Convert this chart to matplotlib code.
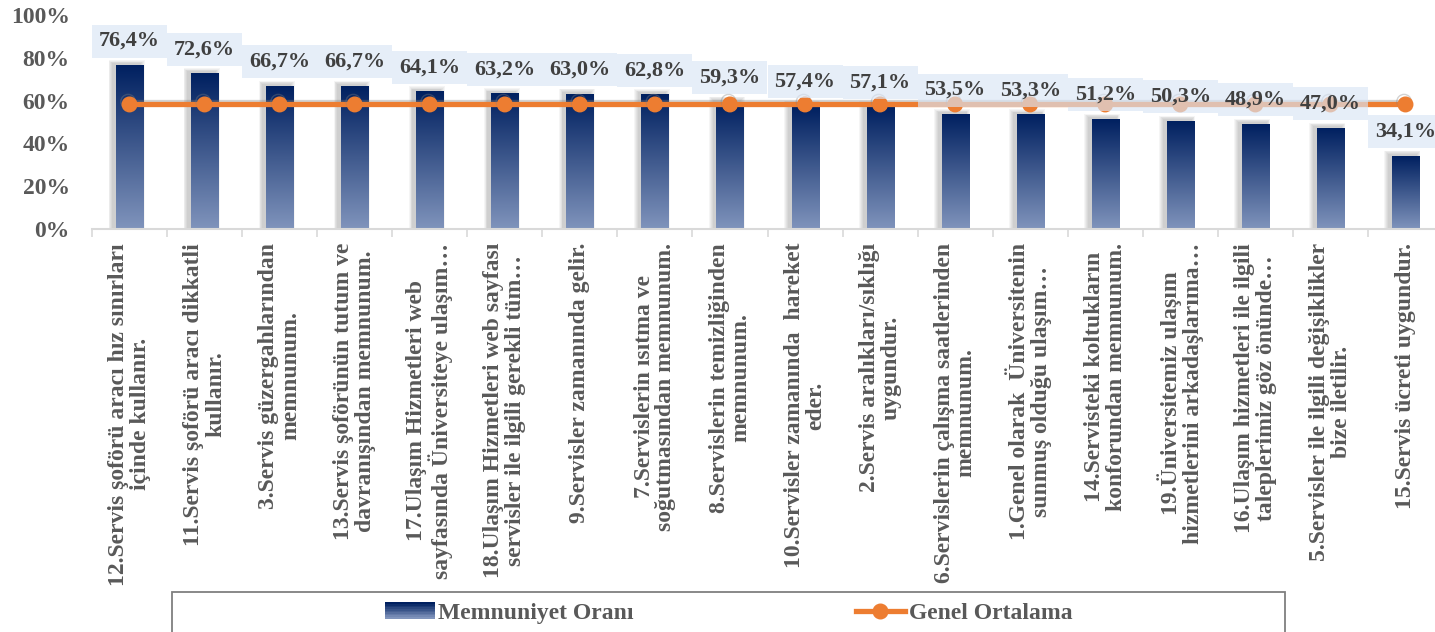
import numpy as np
import matplotlib
matplotlib.use("Agg")
import matplotlib.pyplot as plt
import matplotlib.patheffects as pe
from matplotlib.patches import Rectangle
from matplotlib.lines import Line2D
from matplotlib.legend_handler import HandlerBase
from matplotlib.colors import to_rgb
from matplotlib.font_manager import FontProperties

categories = [
    "12.Servis şoförü aracı hız sınırları\niçinde kullanır.",
    "11.Servis şoförü aracı dikkatli\nkullanır.",
    "3.Servis güzergahlarından\nmemnunum.",
    "13.Servis şoförünün tutum ve\ndavranışından memnunum.",
    "17.Ulaşım Hizmetleri web\nsayfasında Üniversiteye ulaşım…",
    "18.Ulaşım Hizmetleri web sayfası\nservisler ile ilgili gerekli tüm…",
    "9.Servisler zamanında gelir.",
    "7.Servislerin ısıtma ve\nsoğutmasından memnunum.",
    "8.Servislerin temizliğinden\nmemnunum.",
    "10.Servisler zamanında  hareket\neder.",
    "2.Servis aralıkları/sıklığı\nuygundur.",
    "6.Servislerin çalışma saatlerinden\nmemnunum.",
    "1.Genel olarak  Üniversitenin\nsunmuş olduğu ulaşım…",
    "14.Servisteki koltukların\nkonforundan memnunum.",
    "19.Üniversitemiz ulaşım\nhizmetlerini arkadaşlarıma…",
    "16.Ulaşım hizmetleri ile ilgili\ntaleplerimiz göz önünde…",
    "5.Servisler ile ilgili değişiklikler\nbize iletilir.",
    "15.Servis ücreti uygundur.",
]
memnuniyet = [76.4, 72.6, 66.7, 66.7, 64.1, 63.2, 63.0, 62.8, 59.3,
              57.4, 57.1, 53.5, 53.3, 51.2, 50.3, 48.9, 47.0, 34.1]
genel_ortalama = [58.2, 58.2, 58.2, 58.2, 58.2, 58.2, 58.2, 58.2, 58.2,
                  58.2, 58.2, 58.2, 58.2, 58.2, 58.2, 58.2, 58.2, 58.2]
series_names = ["Memnuniyet Oranı", "Genel Ortalama"]
yticks = [0, 20, 40, 60, 80, 100]

W, H = 1435, 632
FONT = "Liberation Serif"
GRAY = "#595959"
TOP = np.array(to_rgb("#002060"))
BOTTOM = np.array(to_rgb("#8094BC"))
ORANGE = "#ED7D31"

fig = plt.figure(figsize=(W / 100, H / 100), dpi=100)
ax = fig.add_axes([92 / W, (H - 229) / H, 1351 / W, 214 / H])

x = np.arange(len(categories))
bw = 0.36
u = 100 / 214  # data units per pixel

# gradient image, dark at the top
grad = np.linspace(0, 1, 256)[:, None, None]
img = (TOP * (1 - grad) + BOTTOM * grad)

for i, v in zip(x, memnuniyet):
    # soft shadow
    for k in range(1, 6):
        ax.add_patch(Rectangle((i - bw / 2 - 0.04 - 0.012 * k, 0), bw + 0.024 * k,
                               v + 0.8 + 0.35 * k, facecolor="k", alpha=0.04,
                               edgecolor="none", zorder=1))
    ax.imshow(img, extent=[i - bw / 2, i + bw / 2, 0, v], aspect="auto",
              origin="upper", zorder=2, interpolation="bilinear")

ax.plot(x, genel_ortalama, color=ORANGE, lw=3.8, marker="o", markersize=10.5,
        zorder=3, solid_capstyle="butt",
        path_effects=[pe.SimpleLineShadow(offset=(-1, 2), shadow_color="gray", alpha=0.35),
                      pe.Normal()])

for i, v in zip(x, memnuniyet):
    ax.add_patch(Rectangle((i - 0.5, v + 8 * u), 1, 33 * u, facecolor="#D9E5F5",
                           alpha=0.65, edgecolor="none", zorder=4, clip_on=False))
    ax.text(i, v + 24.5 * u, f"{v:.1f}".replace(".", ",") + "%", ha="center",
            va="center", fontsize=16, fontweight="bold", family=FONT,
            color="#404040", zorder=5, clip_on=False)

ax.set_xlim(-0.5, len(categories) - 0.5)
ax.set_ylim(0, 100)
ax.set_yticks(yticks)
ax.set_yticklabels([f"{t}%" for t in yticks], fontsize=17, fontweight="bold",
                   family=FONT, color=GRAY)
ax.tick_params(axis="y", length=0, pad=16)

ax.set_xticks(x)
ax.set_xticklabels(categories, rotation=90, ha="center", va="top",
                   multialignment="center", fontsize=17, fontweight="bold",
                   family=FONT, color=GRAY, linespacing=1.05)
ax.set_xticks(np.arange(-0.5, len(categories)), minor=True)
ax.tick_params(axis="x", which="major", length=0, pad=10)
ax.tick_params(axis="x", which="minor", length=6, color="#D9D9D9", width=1.2)

for s in ["top", "right", "left"]:
    ax.spines[s].set_visible(False)
ax.spines["bottom"].set_color("#D9D9D9")
ax.spines["bottom"].set_linewidth(1.5)


class GradHandler(HandlerBase):
    def create_artists(self, legend, orig, xd, yd, w, h, fontsize, trans):
        arts = []
        n = 10
        for k in range(n):
            c = TOP * (1 - k / (n - 1)) + BOTTOM * (k / (n - 1))
            arts.append(Rectangle((xd, yd + h - (k + 1) * h / n), w, h / n,
                                  facecolor=c, edgecolor="none", transform=trans))
        return arts


bar_handle = Rectangle((0, 0), 1, 1)
line_handle = Line2D([], [], color=ORANGE, lw=3.8, marker="o", markersize=10.5)
fig.add_artist(Rectangle((172 / W, -0.05), (1285 - 172) / W, (H - 592) / H + 0.05,
                         transform=fig.transFigure, fill=False,
                         edgecolor="#7F7F7F", lw=1.3))
leg_font = FontProperties(family=FONT, weight="bold", size=17)
leg = fig.legend([bar_handle, line_handle], series_names, loc="center left",
                 bbox_to_anchor=(385 / W, (H - 613) / H), ncol=2, frameon=False,
                 handler_map={bar_handle: GradHandler()}, handlelength=2.1,
                 handletextpad=0.15, columnspacing=9.4, borderpad=0,
                 borderaxespad=0, prop=leg_font)
for t in leg.get_texts():
    t.set_color(GRAY)

fig.savefig("out.png", dpi=100)
